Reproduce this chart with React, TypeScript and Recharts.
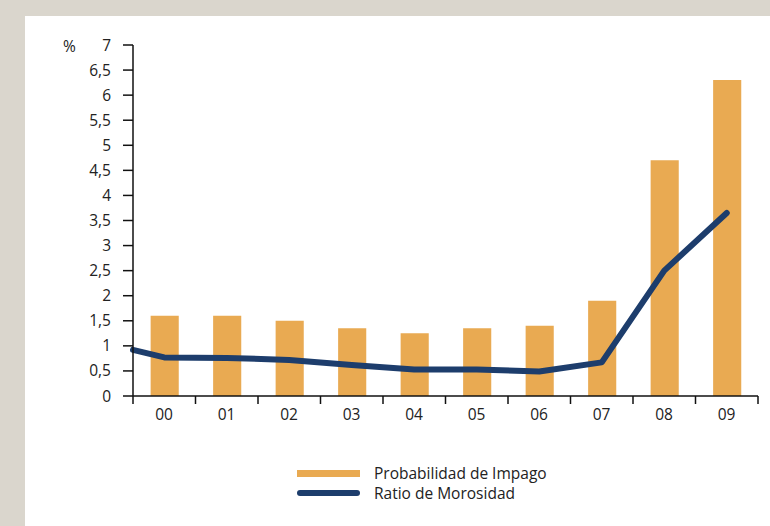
import {
    ComposedChart,
    Bar,
    Line,
    XAxis,
    YAxis,
} from 'recharts'

const years = ['00', '01', '02', '03', '04', '05', '06', '07', '08', '09']
const probabilidadImpago = [1.6, 1.6, 1.5, 1.35, 1.25, 1.35, 1.4, 1.9, 4.7, 6.3]
// the line starts at the axis, half a step before 00
const morosidadX = [-0.5, 0, 1, 2, 3, 4, 5, 6, 7, 8, 9]
const ratioMorosidad = [0.92, 0.77, 0.76, 0.72, 0.62, 0.53, 0.53, 0.49, 0.67, 2.5, 3.65]
const yTicks = [0, 0.5, 1, 1.5, 2, 2.5, 3, 3.5, 4, 4.5, 5, 5.5, 6, 6.5, 7]
const xTicks = [-0.5, 0.5, 1.5, 2.5, 3.5, 4.5, 5.5, 6.5, 7.5, 8.5, 9.5]

const barColor = '#E9AA52'
const lineColor = '#1D3D6C'
const font = '"Open Sans", "Noto Sans", sans-serif'
const fontSize = 15.5

const barData = years.map((label, i) => ({ x: i, label, value: probabilidadImpago[i] }))
const lineData = morosidadX.map((x, i) => ({ x, value: ratioMorosidad[i] }))

const fmt = (v: number) => String(v).replace('.', ',')

// labels sit between the boundary ticks
function YearTick(props: any) {
    const { x, y, payload } = props
    const idx = payload.value + 0.5
    if (idx >= years.length) return null
    return (
        <text x={x + 31} y={y + 14} textAnchor="middle" fontSize={fontSize} fill="#222" fontFamily={font}>
            {years[idx]}
        </text>
    )
}

export default function App() {
    return (
        <div style={{ position: 'absolute', left: 0, top: 0, width: 770, height: 526, background: '#dad6cd' }}>
            <div style={{ position: 'absolute', left: 25, top: 16, right: 0, bottom: 0, background: '#fff' }} />
            <div style={{ position: 'absolute', left: 0, top: 0 }}>
                <ComposedChart
                    width={770}
                    height={526}
                    data={barData}
                    margin={{ top: 45, right: 12, left: 0, bottom: 100 }}
                >
                    <XAxis
                        dataKey="x"
                        type="number"
                        domain={[-0.5, 9.5]}
                        ticks={xTicks}
                        interval={0}
                        height={30}
                        tickSize={8}
                        tick={<YearTick />}
                        axisLine={{ stroke: '#111', strokeWidth: 1.5 }}
                        tickLine={{ stroke: '#111', strokeWidth: 1.5 }}
                    />
                    <YAxis
                        type="number"
                        domain={[0, 7]}
                        ticks={yTicks}
                        interval={0}
                        width={133}
                        tickSize={10}
                        tickMargin={12}
                        tickFormatter={fmt}
                        tick={{ fontSize, fill: '#222', fontFamily: font }}
                        axisLine={{ stroke: '#111', strokeWidth: 1.5 }}
                        tickLine={{ stroke: '#111', strokeWidth: 1.5 }}
                    />
                    <Bar dataKey="value" fill={barColor} barSize={37} isAnimationActive={false} />
                    <Line
                        data={lineData}
                        dataKey="value"
                        type="linear"
                        stroke={lineColor}
                        strokeWidth={6}
                        strokeLinecap="round"
                        strokeLinejoin="round"
                        dot={false}
                        isAnimationActive={false}
                    />
                </ComposedChart>
            </div>
            <div style={{ position: 'absolute', left: 63, top: 35, fontSize, color: '#222', fontFamily: font }}>%</div>
            <div style={{ position: 'absolute', left: 297, top: 463, fontFamily: font, fontSize, color: '#222' }}>
                <div style={{ display: 'flex', alignItems: 'center', height: 20 }}>
                    <span style={{ display: 'inline-block', width: 63, height: 7, background: barColor, marginRight: 14 }} />
                    Probabilidad de Impago
                </div>
                <div style={{ display: 'flex', alignItems: 'center', height: 20 }}>
                    <span style={{ display: 'inline-block', width: 63, height: 6, background: lineColor, borderRadius: 3, marginRight: 14 }} />
                    Ratio de Morosidad
                </div>
            </div>
        </div>
    )
}
